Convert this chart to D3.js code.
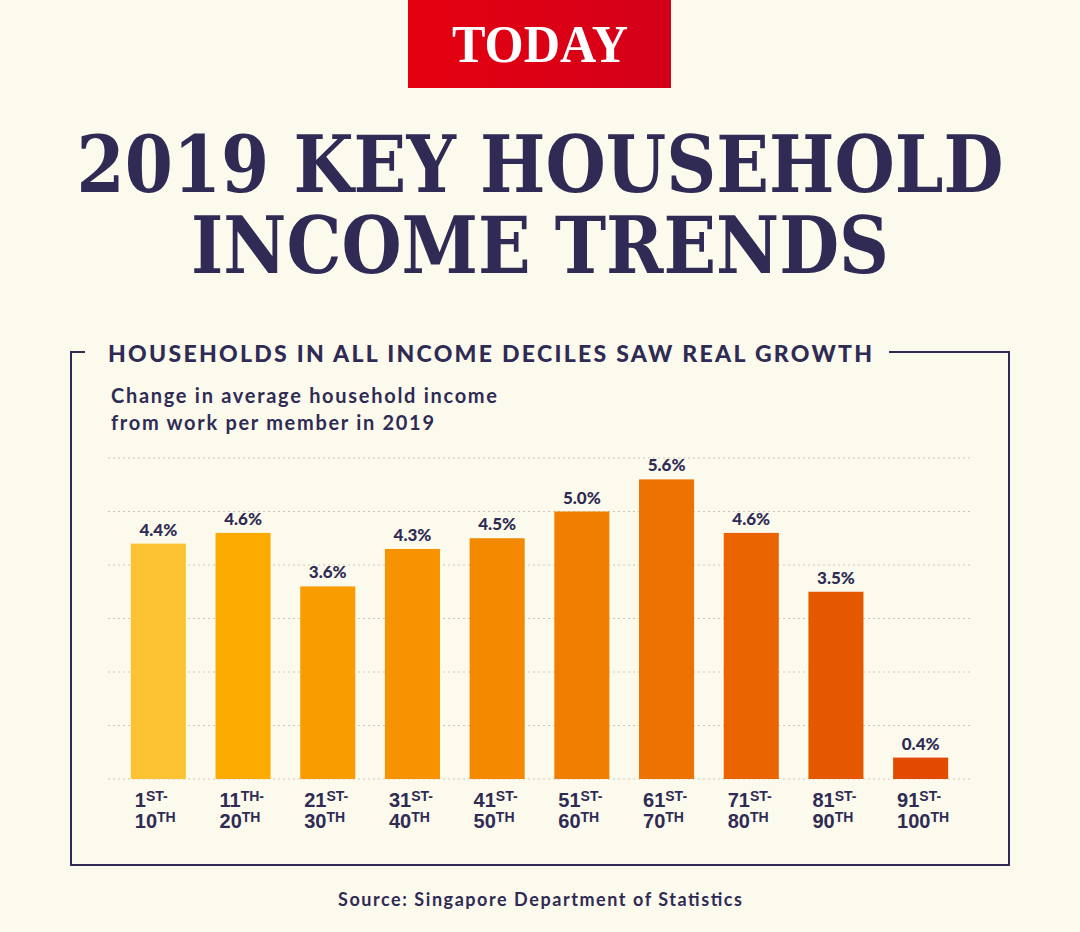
<!DOCTYPE html>
<html>
<head>
<meta charset="utf-8">
<script src="https://cdn.jsdelivr.net/npm/d3@7"></script>
<style>
  html, body { margin: 0; padding: 0; background: #fcfaec; }
  svg { display: block; }
</style>
</head>
<body>
<div id="chart"></div>
<script>
// data
const deciles = ["1|ST|10", "11|TH|20", "21|ST|30", "31|ST|40", "41|ST|50",
                 "51|ST|60", "61|ST|70", "71|ST|80", "81|ST|90", "91|ST|100"];
const growth = [4.4, 4.6, 3.6, 4.3, 4.5, 5.0, 5.6, 4.6, 3.5, 0.4];
const barColors = ["#fdc232", "#fdab00", "#f99c00", "#f79300", "#f48900",
                   "#f17e00", "#ee7200", "#ea6500", "#e65800", "#e24a00"];
const gridTicks = [0, 1, 2, 3, 4, 5, 6];

const width = 1080, height = 932;
const ink = "#2f2b55";
const sans = "Lato, 'Open Sans', sans-serif";

const svg = d3.select("#chart").append("svg")
    .attr("width", width)
    .attr("height", height);

svg.append("rect").attr("width", width).attr("height", height).attr("fill", "#fcfaec");

// logo
const grad = svg.append("defs").append("linearGradient").attr("id", "logoGrad");
grad.append("stop").attr("offset", "0%").attr("stop-color", "#e4000f");
grad.append("stop").attr("offset", "100%").attr("stop-color", "#d4001a");
svg.append("rect")
    .attr("x", 408).attr("y", 0).attr("width", 263).attr("height", 88)
    .attr("fill", "url(#logoGrad)");
svg.append("text")
    .attr("x", 540).attr("y", 62)
    .attr("text-anchor", "middle")
    .attr("font-family", "'Liberation Serif', serif")
    .attr("font-weight", "bold")
    .attr("font-size", 52)
    .attr("textLength", 176)
    .attr("lengthAdjust", "spacingAndGlyphs")
    .attr("fill", "#fff")
    .text("TODAY");

// headline
[["2019 KEY HOUSEHOLD", 192, 927], ["INCOME TRENDS", 273, 698]].forEach(function (l) {
    svg.append("text")
        .attr("x", 540).attr("y", l[1])
        .attr("text-anchor", "middle")
        .attr("font-family", "'DejaVu Serif', serif")
        .attr("font-weight", "bold")
        .attr("font-size", 78)
        .attr("textLength", l[2])
        .attr("lengthAdjust", "spacingAndGlyphs")
        .attr("fill", ink)
        .text(l[0]);
});

// frame with gap for the panel title
svg.append("path")
    .attr("d", "M85,352 H71 V865 H1009 V352 H889")
    .attr("fill", "none")
    .attr("stroke", ink)
    .attr("stroke-width", 2);

svg.append("text")
    .attr("x", 108).attr("y", 362)
    .attr("font-family", sans)
    .attr("font-weight", 900)
    .attr("font-size", 23)
    .attr("textLength", 764)
    .attr("lengthAdjust", "spacing")
    .attr("fill", ink)
    .text("HOUSEHOLDS IN ALL INCOME DECILES SAW REAL GROWTH");

[["Change in average household income", 403, 386], ["from work per member in 2019", 430, 323]].forEach(function (l) {
    svg.append("text")
        .attr("x", 111).attr("y", l[1])
        .attr("font-family", sans)
        .attr("font-weight", "bold")
        .attr("font-size", 20)
        .attr("textLength", l[2])
        .attr("lengthAdjust", "spacing")
        .attr("fill", ink)
        .text(l[0]);
});

// scales
const x = d3.scaleBand()
    .domain(deciles)
    .range([116, 963])
    .paddingInner(0.35)
    .paddingOuter(0.175);

const y = d3.scaleLinear()
    .domain([0, 6])
    .range([779, 458]);

// dotted gridlines
svg.append("g")
    .selectAll("line")
    .data(gridTicks)
    .enter().append("line")
    .attr("x1", 108).attr("x2", 970)
    .attr("y1", d => y(d)).attr("y2", d => y(d))
    .attr("stroke", "#c9c6bd")
    .attr("stroke-width", 1.2)
    .attr("stroke-dasharray", "2,3");

// bars
svg.append("g")
    .selectAll("rect")
    .data(growth)
    .enter().append("rect")
    .attr("x", (d, i) => x(deciles[i]))
    .attr("y", d => y(d))
    .attr("width", x.bandwidth())
    .attr("height", d => y(0) - y(d))
    .attr("fill", (d, i) => barColors[i]);

// value labels
svg.append("g")
    .selectAll("text")
    .data(growth)
    .enter().append("text")
    .attr("x", (d, i) => x(deciles[i]) + x.bandwidth() / 2)
    .attr("y", d => y(d) - 8)
    .attr("text-anchor", "middle")
    .attr("font-family", sans)
    .attr("font-weight", 900)
    .attr("font-size", 17)
    .attr("fill", ink)
    .text(d => d.toFixed(1) + "%");

// category labels: "1ST-" / "10TH"
const cat = svg.append("g")
    .selectAll("g")
    .data(deciles)
    .enter().append("g")
    .attr("transform", d => "translate(" + (x(d) + 4) + ",0)");

cat.each(function (d) {
    const parts = d.split("|");
    const g = d3.select(this);
    const t1 = g.append("text").attr("y", 807)
        .attr("font-family", "'Liberation Sans', Arial, sans-serif")
        .attr("font-weight", "bold").attr("fill", ink);
    t1.append("tspan").attr("font-size", 20).text(parts[0]);
    t1.append("tspan").attr("font-size", 14).attr("dy", -6).text(parts[1] + "-");
    const t2 = g.append("text").attr("y", 828)
        .attr("font-family", "'Liberation Sans', Arial, sans-serif")
        .attr("font-weight", "bold").attr("fill", ink);
    t2.append("tspan").attr("font-size", 20).text(parts[2]);
    t2.append("tspan").attr("font-size", 14).attr("dy", -6).text("TH");
});

// source
svg.append("text")
    .attr("x", 540).attr("y", 906)
    .attr("text-anchor", "middle")
    .attr("font-family", sans)
    .attr("font-weight", "bold")
    .attr("font-size", 18)
    .attr("textLength", 404)
    .attr("lengthAdjust", "spacing")
    .attr("fill", ink)
    .text("Source: Singapore Department of Statistics");
</script>
</body>
</html>
